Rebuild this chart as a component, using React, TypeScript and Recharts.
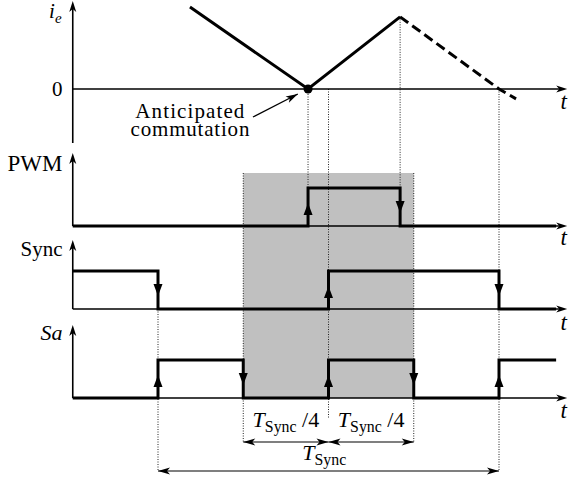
import { ComposedChart, XAxis, YAxis, Line, Scatter, ReferenceLine, ReferenceArea, ReferenceDot } from 'recharts'

// time is in units of T_Sync / 4, with 0 on the vertical axes
const AXIS_END = 5.8
const SIGNAL_END = 5.67

// motor current i_e (solid part, then the dashed extrapolation)
const ieSolid = [
  { t: 1.375, ie: 1 },
  { t: 2.76, ie: 0 },
  { t: 3.84, ie: 0.88 },
]
const ieDashed = [
  { t: 3.84, ie: 0.88 },
  { t: 5.0, ie: 0 },
  { t: 5.2, ie: -0.12 },
]

// logic signals, level after each time
const pwm = [
  { t: 0, v: 0 },
  { t: 2.76, v: 1 },
  { t: 3.84, v: 0 },
  { t: SIGNAL_END, v: 0 },
]
const sync = [
  { t: 0, v: 1 },
  { t: 1, v: 0 },
  { t: 3, v: 1 },
  { t: 5, v: 0 },
  { t: SIGNAL_END, v: 0 },
]
const sa = [
  { t: 0, v: 0 },
  { t: 1, v: 1 },
  { t: 2, v: 0 },
  { t: 3, v: 1 },
  { t: 4, v: 0 },
  { t: 5, v: 1 },
  { t: SIGNAL_END, v: 1 },
]

const shadeFrom = 2
const shadeTo = 4
const commutationT = 2.76

// layout (y is in page pixels, reversed axis)
const W = 570
const H = 478
const X_MIN = -0.8534
const X_MAX = 5.8328
const IE_ZERO = 89
const IE_GAIN = 82
const PWM_BASE = 226
const SYNC_BASE = 309
const SA_BASE = 398
const PULSE = 38
const SHADE_TOP = 173
const DIM1_Y = 442
const DIM2_Y = 471
const FONT = 'Liberation Serif'

const ieY = (d: { t: number; ie: number }) => ({ t: d.t, y: IE_ZERO - d.ie * IE_GAIN })
const levelY = (base: number) => (d: { t: number; v: number }) => ({ t: d.t, y: base - d.v * PULSE })

const panels = [
  { base: IE_ZERO, top: 1, bottom: 143 },
  { base: PWM_BASE, top: 153, bottom: PWM_BASE },
  { base: SYNC_BASE, top: 240, bottom: SYNC_BASE },
  { base: SA_BASE, top: 325, bottom: SA_BASE },
]

const signals = [
  { data: pwm, base: PWM_BASE },
  { data: sync, base: SYNC_BASE },
  { data: sa, base: SA_BASE },
]

const peakY = IE_ZERO - ieSolid[2].ie * IE_GAIN
const guides = [
  { t: 1, y1: SYNC_BASE, y2: DIM2_Y },
  { t: 2, y1: SHADE_TOP, y2: DIM1_Y },
  { t: 2.76, y1: IE_ZERO, y2: PWM_BASE - PULSE },
  { t: 3, y1: IE_ZERO, y2: 418 },
  { t: 3.84, y1: peakY, y2: PWM_BASE - PULSE },
  { t: 4, y1: SHADE_TOP, y2: DIM1_Y },
  { t: 5, y1: IE_ZERO, y2: DIM2_Y },
]

const dims = [
  { t1: 2, t2: 3, y: DIM1_Y },
  { t1: 3, t2: 4, y: DIM1_Y },
  { t1: 1, t2: 5, y: DIM2_Y },
]

const note = { t1: 2.114, y1: 117, t2: 2.64, y2: 94 }

type Head = { t: number; y: number; angle: number; kind: 'axis' | 'edge' | 'dim' }
const heads: Head[] = []
panels.forEach((p) => {
  heads.push({ t: 0, y: p.top, angle: -90, kind: 'axis' })
  heads.push({ t: AXIS_END, y: p.base, angle: 0, kind: 'axis' })
})
signals.forEach((s) => {
  for (let i = 1; i < s.data.length; i++) {
    const a = s.data[i - 1]
    const b = s.data[i]
    if (a.v === b.v) continue
    const mid = s.base - PULSE / 2
    if (b.v > a.v) heads.push({ t: b.t, y: mid - 4, angle: -90, kind: 'edge' })
    else heads.push({ t: b.t, y: mid + 6, angle: 90, kind: 'edge' })
  }
})
dims.forEach((d) => {
  heads.push({ t: d.t1, y: d.y, angle: 180, kind: 'dim' })
  heads.push({ t: d.t2, y: d.y, angle: 0, kind: 'dim' })
})
heads.push({ t: note.t2, y: note.y2, angle: -28, kind: 'dim' })

type Part = { s: string; italic?: boolean; sub?: boolean }
type Label = { t: number; y: number; anchor: 'start' | 'middle' | 'end'; size?: number; spacing?: number; parts: Part[] }
const labels: Label[] = [
  { t: -0.13, y: 18, anchor: 'end', size: 21, parts: [{ s: 'i', italic: true }, { s: 'e', italic: true, sub: true }] },
  { t: -0.12, y: 96, anchor: 'end', parts: [{ s: '0' }] },
  { t: -0.12, y: 171, anchor: 'end', size: 23, parts: [{ s: 'PWM' }] },
  { t: -0.12, y: 256, anchor: 'end', parts: [{ s: 'Sync' }] },
  { t: -0.12, y: 340, anchor: 'end', size: 22, parts: [{ s: 'Sa', italic: true }] },
  { t: 5.76, y: 109, anchor: 'middle', size: 23, parts: [{ s: 't', italic: true }] },
  { t: 5.76, y: 245, anchor: 'middle', size: 23, parts: [{ s: 't', italic: true }] },
  { t: 5.76, y: 330, anchor: 'middle', size: 23, parts: [{ s: 't', italic: true }] },
  { t: 5.76, y: 418, anchor: 'middle', size: 23, parts: [{ s: 't', italic: true }] },
  { t: 1.38, y: 118, anchor: 'middle', size: 21, spacing: 1.1, parts: [{ s: 'Anticipated' }] },
  { t: 1.38, y: 136, anchor: 'middle', size: 21, spacing: 0.8, parts: [{ s: 'commutation' }] },
  { t: 2.5, y: 427, anchor: 'middle', size: 22, parts: [{ s: 'T', italic: true }, { s: 'Sync', sub: true }, { s: ' /4' }] },
  { t: 3.5, y: 427, anchor: 'middle', size: 22, parts: [{ s: 'T', italic: true }, { s: 'Sync', sub: true }, { s: ' /4' }] },
  { t: 2.95, y: 460, anchor: 'middle', size: 22, parts: [{ s: 'T', italic: true }, { s: 'Sync', sub: true }] },
]

const ArrowHead = (props: any) => {
  const { cx, cy, payload } = props
  const h: Head = payload
  let d = 'M0,0 L-11,-3.5 L-8,0 L-11,3.5 Z'
  if (h.kind === 'edge') d = 'M0,0 L-12,-4.5 L-12,4.5 Z'
  if (h.kind === 'dim') d = 'M0,0 L-12,-3.5 L-9,0 L-12,3.5 Z'
  return <path d={d} fill="#000" transform={`translate(${cx},${cy}) rotate(${h.angle})`} />
}

const TextMark = (props: any) => {
  const { cx, cy, payload } = props
  const l: Label = payload
  const size = l.size ?? 21
  let shift = 0
  return (
    <text
      x={cx}
      y={cy}
      textAnchor={l.anchor}
      fill="#000"
      fontFamily={FONT}
      fontSize={size}
      letterSpacing={l.spacing ?? 0}
    >
      {l.parts.map((p, i) => {
        const dy = p.sub ? 5 - shift : -shift
        shift = p.sub ? 5 : 0
        return (
          <tspan
            key={i}
            dy={dy}
            fontFamily={FONT}
            fontSize={p.sub ? size * 0.72 : size}
            fontStyle={p.italic ? 'italic' : 'normal'}
          >
            {p.s}
          </tspan>
        )
      })}
    </text>
  )
}

export default function App() {
  return (
    <div style={{ position: 'absolute', left: 0, top: 0, width: W, height: H, background: '#fff' }}>
      <ComposedChart width={W} height={H} margin={{ top: 0, right: 0, bottom: 0, left: 0 }}>
        <XAxis dataKey="t" type="number" domain={[X_MIN, X_MAX]} allowDataOverflow hide />
        <YAxis dataKey="y" type="number" domain={[0, H]} reversed allowDataOverflow hide />

        <ReferenceArea x1={shadeFrom} x2={shadeTo} y1={SHADE_TOP} y2={SA_BASE} fill="#c0c0c0" fillOpacity={1} stroke="none" />

        {guides.map((g, i) => (
          <ReferenceLine
            key={'g' + i}
            segment={[{ x: g.t, y: g.y1 }, { x: g.t, y: g.y2 }]}
            stroke="#222"
            strokeWidth={1}
            strokeDasharray="1 1.5"
          />
        ))}

        {panels.map((p, i) => (
          <ReferenceLine key={'v' + i} segment={[{ x: 0, y: p.top + 4 }, { x: 0, y: p.bottom }]} stroke="#000" strokeWidth={1.6} />
        ))}
        {panels.map((p, i) => (
          <ReferenceLine key={'h' + i} segment={[{ x: 0, y: p.base }, { x: AXIS_END - 0.05, y: p.base }]} stroke="#000" strokeWidth={1.6} />
        ))}

        {dims.map((d, i) => (
          <ReferenceLine key={'d' + i} segment={[{ x: d.t1, y: d.y }, { x: d.t2, y: d.y }]} stroke="#000" strokeWidth={1.2} />
        ))}
        <ReferenceLine segment={[{ x: note.t1, y: note.y1 }, { x: note.t2, y: note.y2 }]} stroke="#000" strokeWidth={1.4} />

        <Line data={ieSolid.map(ieY)} dataKey="y" type="linear" stroke="#000" strokeWidth={3} dot={false} isAnimationActive={false} />
        <Line data={ieDashed.map(ieY)} dataKey="y" type="linear" stroke="#000" strokeWidth={3} strokeDasharray="10 5" dot={false} isAnimationActive={false} />

        {signals.map((s, i) => (
          <Line
            key={'s' + i}
            data={s.data.map(levelY(s.base))}
            dataKey="y"
            type="stepAfter"
            stroke="#000"
            strokeWidth={3}
            dot={false}
            isAnimationActive={false}
          />
        ))}

        <ReferenceDot x={commutationT} y={IE_ZERO} r={4.5} fill="#000" stroke="none" />

        <Scatter data={heads} dataKey="y" shape={ArrowHead} isAnimationActive={false} />
        <Scatter data={labels} dataKey="y" shape={TextMark} isAnimationActive={false} />
      </ComposedChart>
    </div>
  )
}
